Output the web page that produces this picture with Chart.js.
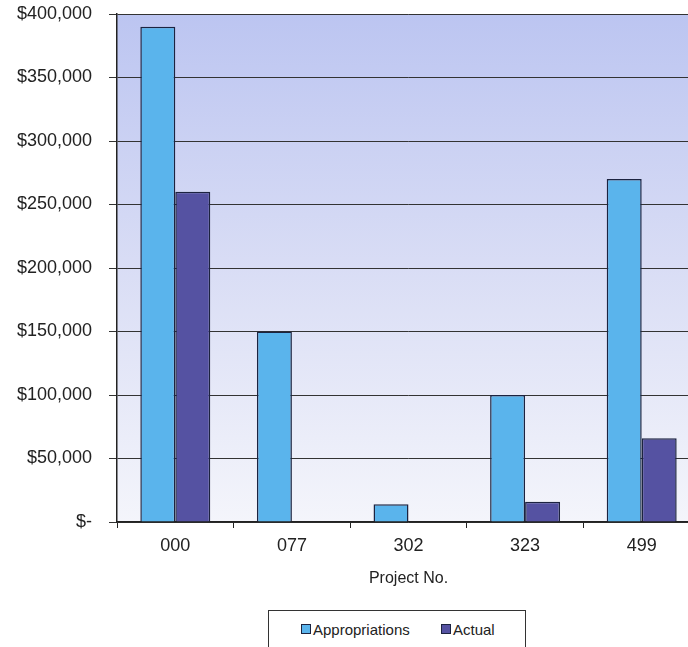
<!DOCTYPE html>
<html>
<head>
<meta charset="utf-8">
<script src="https://cdn.jsdelivr.net/npm/chart.js@4.4.1/dist/chart.umd.min.js"></script>
<style>
    html, body { margin: 0; padding: 0; background: #fff; overflow: hidden; width: 688px; height: 647px; }
    #wrap { position: absolute; left: 0; top: 0; width: 700px; height: 590px; }
    #legend {
        position: absolute; left: 268px; top: 610px; width: 256px; height: 50px;
        border: 1px solid #333; background: #fff;
        font-family: "Liberation Sans", Arial, sans-serif; font-size: 15px; color: #222;
    }
    #legend .item { position: absolute; top: 10px; white-space: nowrap; }
    #legend .sw { display: inline-block; width: 8px; height: 8px; border: 1px solid #1c2340; margin-right: 2px; vertical-align: 1px; }
</style>
</head>
<body>
<div id="wrap"><canvas id="chart" width="700" height="590"></canvas></div>
<div id="legend">
    <span class="item" style="left:32px"><span class="sw" style="background:#5ab4ec"></span>Appropriations</span>
    <span class="item" style="left:172px"><span class="sw" style="background:#5552a2"></span>Actual</span>
</div>
<script>
// data
const projects = ['000', '077', '302', '323', '499'];
const appropriations = [390000, 150000, 14000, 100000, 270000];
const actual = [260000, 0, 0, 16000, 66000];
const yTicks = [0, 50000, 100000, 150000, 200000, 250000, 300000, 350000, 400000];

const font = "'Liberation Sans', Arial, sans-serif";

// lavender-to-white plot background
const plotBackground = {
    id: 'plotBackground',
    beforeDraw(chart) {
        const { ctx, chartArea: a } = chart;
        const g = ctx.createLinearGradient(0, a.top, 0, a.bottom);
        g.addColorStop(0, '#bcc5f1');
        g.addColorStop(0.5, '#d9ddf5');
        g.addColorStop(1, '#f4f5fb');
        ctx.save();
        ctx.fillStyle = g;
        ctx.fillRect(a.left, a.top, a.right - a.left, a.bottom - a.top);
        ctx.restore();
    }
};

const ctx = document.getElementById('chart').getContext('2d');
new Chart(ctx, {
    type: 'bar',
    data: {
        labels: projects,
        datasets: [{
            label: 'Appropriations',
            data: appropriations,
            backgroundColor: '#5ab4ec',
            borderColor: '#1c2340',
            borderWidth: 1.5,
            categoryPercentage: 0.6,
            barPercentage: 1.0
        }, {
            label: 'Actual',
            data: actual,
            backgroundColor: '#5552a2',
            borderColor: '#1c2340',
            borderWidth: 1.5,
            categoryPercentage: 0.6,
            barPercentage: 1.0
        }]
    },
    options: {
        responsive: false,
        animation: false,
        layout: { padding: { top: 14, right: 0, bottom: 0, left: 0 } },
        plugins: {
            legend: { display: false },
            tooltip: { enabled: false }
        },
        scales: {
            x: {
                afterFit: s => { s.height = 68; },
                grid: {
                    offset: true,
                    drawOnChartArea: false,
                    tickLength: 6,
                    color: '#222'
                },
                border: { color: '#222', width: 1.5 },
                ticks: {
                    padding: 7,
                    color: '#222',
                    font: { family: font, size: 18 }
                },
                title: {
                    display: true,
                    text: 'Project No.',
                    color: '#222',
                    padding: { top: 4, bottom: 2 },
                    font: { family: font, size: 16 }
                }
            },
            y: {
                min: 0,
                max: 400000,
                afterFit: s => { s.width = 117; s.paddingTop = 0; s.paddingBottom = 0; },
                afterBuildTicks: s => { s.ticks = yTicks.map(v => ({ value: v })); },
                grid: { color: '#333', lineWidth: 1, tickLength: 8 },
                border: { color: '#222', width: 1.5 },
                ticks: {
                    padding: 17,
                    color: '#222',
                    font: { family: font, size: 18 },
                    callback: v => v === 0 ? '$-' : '$' + v.toLocaleString('en-US')
                }
            }
        }
    },
    plugins: [plotBackground]
});
</script>
</body>
</html>
